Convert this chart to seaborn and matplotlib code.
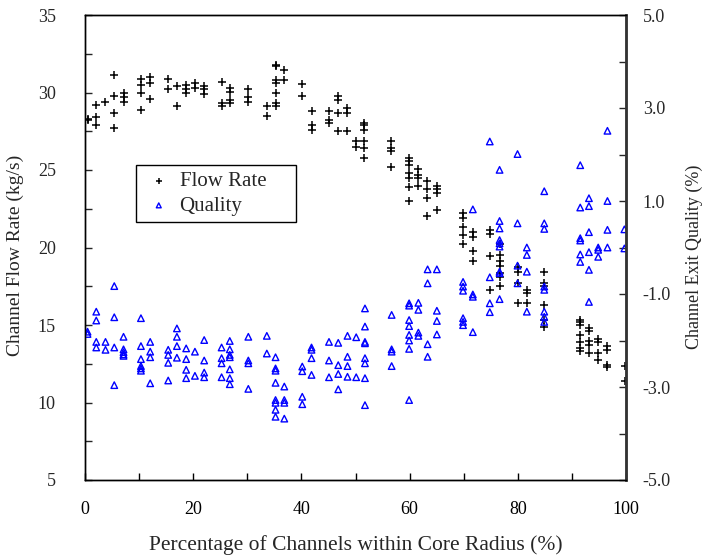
import matplotlib
matplotlib.use("Agg")
import matplotlib.pyplot as plt
from matplotlib.ticker import MultipleLocator, FormatStrFormatter
import seaborn as sns
import pandas as pd

# x positions (% of channels within core radius) and the values read at each
flow_pct = [0.47, 2.08, 3.69, 5.41, 7.12, 10.34, 12.05, 15.28, 16.99, 18.7, 20.32,
            22.03, 25.25, 26.76, 30.09, 33.61, 35.22, 36.84, 40.16, 41.87, 45.1,
            46.71, 48.42, 50.03, 51.65, 56.58, 59.91, 61.62, 63.23, 65.04, 69.88,
            71.69, 74.82, 76.63, 79.95, 81.67, 84.89, 91.54, 93.15, 94.86, 96.57, 99.8]
flow_rate = [[28.2, 28.3], [29.2, 28.4, 27.9], [29.4], [31.1, 29.8, 28.7, 27.7],
             [30.0, 29.7, 29.4], [30.85, 30.5, 29.95, 28.9], [31.0, 30.6, 29.6],
             [30.9, 30.2], [30.4, 29.1], [30.5, 30.2, 30.0], [30.6, 30.3],
             [30.4, 30.2, 29.9], [30.7, 29.3, 29.1], [30.3, 30.05, 29.5, 29.3],
             [30.2, 29.7, 29.4], [29.1, 28.5],
             [31.8, 31.7, 30.8, 30.6, 30.0, 29.3, 29.1], [31.45, 30.8],
             [30.55, 29.8], [28.8, 27.9, 27.6], [28.8, 28.2, 28.05],
             [29.8, 29.5, 28.7, 27.5], [29.0, 28.7, 27.5], [26.9, 26.5],
             [28.05, 27.9, 27.6, 26.9, 26.4, 25.8], [26.9, 26.4, 26.2, 25.2],
             [25.8, 25.6, 25.3, 24.8, 24.5, 23.9, 23.0], [25.05, 24.7, 24.5, 24.0],
             [24.3, 23.75, 23.2, 22.05], [24.0, 23.75, 23.5, 22.45],
             [22.25, 21.9, 21.35, 20.8, 20.2], [21.0, 20.7, 19.8, 19.1],
             [21.1, 20.9, 19.45, 17.25], [20.2, 19.5, 19.1, 18.8, 18.35, 18.1, 17.5],
             [18.75, 18.4, 17.7, 16.4], [17.25, 17.05, 16.4],
             [18.4, 17.7, 17.5, 16.3, 15.3, 14.9],
             [15.3, 15.2, 15.0, 14.35, 13.9, 13.5, 13.35],
             [14.8, 14.6, 14.0, 13.7, 13.2], [14.1, 13.9, 13.2, 12.75],
             [13.65, 13.4, 12.4, 12.3], [12.35, 11.4]]

qual_pct = [0.47, 2.08, 3.79, 5.41, 7.12, 10.34, 12.05, 15.38, 16.99, 18.7, 20.32,
            22.03, 25.25, 26.76, 30.19, 33.61, 35.22, 36.84, 40.16, 41.87, 45.1,
            46.81, 48.52, 50.13, 51.75, 56.68, 59.91, 61.62, 63.33, 65.04, 69.88,
            71.69, 74.82, 76.63, 79.95, 81.67, 84.89, 91.54, 93.15, 94.86, 96.57, 99.7]
exit_quality = [[-1.81, -1.86], [-1.38, -1.57, -2.03, -2.15], [-2.03, -2.2],
                [-0.83, -1.5, -2.15, -2.96], [-1.92, -2.19, -2.25, -2.3, -2.33],
                [-1.52, -2.12, -2.4, -2.55, -2.6, -2.65], [-2.03, -2.24, -2.36, -2.92],
                [-2.2, -2.31, -2.48, -2.86], [-1.74, -1.92, -2.12, -2.37],
                [-2.17, -2.4, -2.63, -2.81], [-2.24, -2.76],
                [-1.99, -2.43, -2.69, -2.79], [-2.15, -2.38, -2.49, -2.79],
                [-2.01, -2.19, -2.31, -2.36, -2.62, -2.81, -2.94],
                [-1.92, -2.43, -2.49, -3.04], [-1.9, -2.28],
                [-2.36, -2.6, -2.65, -2.91, -3.28, -3.34, -3.49, -3.64],
                [-2.99, -3.28, -3.34, -3.68], [-2.56, -2.66, -3.21, -3.37],
                [-2.15, -2.2, -2.38, -2.74], [-2.03, -2.43, -2.79],
                [-2.05, -2.53, -2.72, -3.05], [-1.9, -2.35, -2.55, -2.78],
                [-1.93, -2.79], [-1.31, -1.7, -2.03, -2.06, -2.38, -2.49, -2.81, -3.39],
                [-1.45, -2.19, -2.24, -2.55],
                [-1.2, -1.25, -1.56, -1.69, -1.88, -2.0, -2.18, -3.28],
                [-1.19, -1.34, -1.83, -1.9], [-0.47, -0.77, -2.08, -2.35],
                [-0.47, -1.36, -1.58, -1.87], [-0.74, -0.84, -0.93, -1.52, -1.6, -1.67],
                [0.82, -1.01, -1.06, -1.82], [2.28, -0.64, -1.2, -1.39],
                [1.67, 0.57, 0.41, 0.16, 0.09, 0.02, -0.52, -0.55, -1.11],
                [2.01, 0.52, -0.39, -0.77], [0.0, -0.16, -0.52, -1.38],
                [1.21, 0.52, 0.40, -0.84, -0.91, -1.38, -1.49, -1.6],
                [1.77, 0.86, 0.2, 0.15, -0.15, -0.31],
                [1.06, 0.89, 0.33, -0.1, -0.48, -1.17], [0.0, -0.05, -0.2],
                [2.51, 1.0, 0.38, 0.0], [0.39, -0.02]]


def expand(xs, groups, name):
    rows = [(x, v) for x, vals in zip(xs, groups) for v in vals]
    return pd.DataFrame(rows, columns=["pct", name])


flow_df = expand(flow_pct, flow_rate, "flow")
qual_df = expand(qual_pct, exit_quality, "quality")

sns.set_theme(style="white")
plt.rcParams['font.family'] = ['Liberation Serif', 'DejaVu Serif']

fig = plt.figure(figsize=(7.03, 5.58), dpi=100)
ax = fig.add_axes([85 / 703, 1 - 480 / 558, 541 / 703, 465 / 558])
ax2 = ax.twinx()

sns.scatterplot(data=flow_df, x="pct", y="flow", marker="+", color="black",
                s=40, linewidth=1.1, label="Flow Rate", ax=ax, zorder=3)
sns.scatterplot(data=qual_df, x="pct", y="quality", marker="^", facecolor="none",
                edgecolor="blue", s=22, linewidth=1.0, label="Quality", ax=ax2)

ax.set_xlim(0, 100)
ax.set_ylim(5, 35)
ax2.set_ylim(-5, 5)

ax.xaxis.set_major_locator(MultipleLocator(20))
ax.xaxis.set_minor_locator(MultipleLocator(10))
ax.yaxis.set_major_locator(MultipleLocator(5))
ax.yaxis.set_minor_locator(MultipleLocator(2.5))
ax2.set_yticks([5, 3, 1, -1, -3, -5])
ax2.yaxis.set_minor_locator(MultipleLocator(1))
ax2.yaxis.set_major_formatter(FormatStrFormatter('%.1f'))

ax.tick_params(axis='x', which='both', direction='in', length=5, width=1,
               pad=15, labelsize=13, colors='black', bottom=True)
ax.tick_params(axis='y', which='both', direction='in', length=5, width=1,
               pad=21, labelsize=13, left=True, right=False)
ax2.tick_params(axis='y', which='both', direction='in', length=5, width=1,
                pad=12, labelsize=13, right=True)

for a in (ax, ax2):
    for sp in a.spines.values():
        sp.set_color('black')
        sp.set_linewidth(1.0)
ax2.spines['right'].set_linewidth(2.0)
ax2.spines['right'].set_color('#333333')

ax.set_xlabel("Percentage of Channels within Core Radius (%)", fontsize=15.5)
ax.xaxis.set_label_coords(0.5, -0.118)
ax.set_ylabel("Channel Flow Rate (kg/s)", fontsize=14)
ax.yaxis.set_label_coords(-0.113, 0.482)
ax2.set_ylabel("Channel Exit Quality (%)", fontsize=13)
ax2.yaxis.set_label_coords(1.11, 0.48)

h1, l1 = ax.get_legend_handles_labels()
h2, l2 = ax2.get_legend_handles_labels()
if ax.get_legend() is not None:
    ax.get_legend().remove()
leg = ax2.legend(h1 + h2, l1 + l2, loc='upper left',
                 bbox_to_anchor=(0.094, 0.55, 0.296, 0.127), mode='expand',
                 borderaxespad=0, fontsize=15, frameon=True, fancybox=False,
                 edgecolor='black', framealpha=1, borderpad=0.3, labelspacing=0.25,
                 handlelength=1.6, handletextpad=0.2, markerscale=0.75)
leg.get_frame().set_linewidth(1.0)

fig.savefig("out.png", dpi=100)
